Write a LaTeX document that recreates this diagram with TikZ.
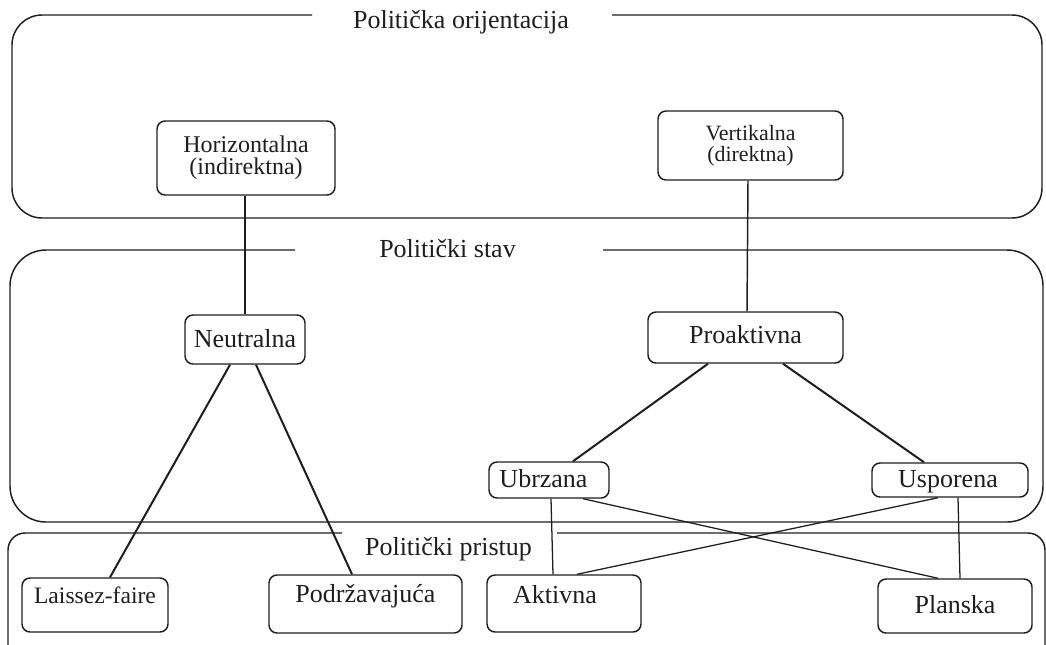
\documentclass[tikz,border=0pt]{standalone}
\usepackage{fontspec}
\setmainfont{Liberation Serif}
\usetikzlibrary{calc}
\definecolor{ln}{HTML}{1E1E1E}
\begin{document}
\begin{tikzpicture}[x=0.75pt,y=-0.75pt,line join=round,
  frame/.style={draw=ln,line width=1.1pt},
  box/.style={draw=ln,line width=1.1pt,rounded corners=6pt,fill=white,inner sep=0pt,
    font=\fontsize{19.5}{22}\selectfont,text=ln},
  lbl/.style={font=\fontsize{19.5}{22}\selectfont,text=ln,inner sep=0pt},
  mid/.style={draw=ln,line width=1.1pt},
  thk/.style={draw=ln,line width=1.5pt},
  thn/.style={draw=ln,line width=0.95pt}]
\useasboundingbox (0,0) rectangle (1046,644);
\clip (0,0) rectangle (1046,644);

% group frames
\draw[frame,rounded corners=22.5pt] (312,15) -- (12,15) -- (12,218) -- (1042,218) -- (1042,15) -- (612,15);
\draw[frame,rounded corners=27pt] (295,250) -- (10,250) -- (10,522) -- (1043,522) -- (1043,250) -- (603,250);
\draw[frame,rounded corners=12.75pt] (342,533) -- (8,533) -- (8,700) -- (1045,700) -- (1045,533) -- (557,533);

% group labels
\node[lbl,anchor=base] (t1) at (461,28) {Politička orijentacija};
\node[lbl,anchor=base] (t2) at (447.5,257) {Politički stav};
\node[lbl,anchor=base] (t3) at (448.5,555) {Politički pristup};

% nodes
\node[box,minimum width=133.5pt,minimum height=55.5pt,align=center,
  font=\fontsize{18}{16.5}\selectfont] (hor) at (246,158) {Horizontalna\\(indirektna)};
\node[box,minimum width=138.75pt,minimum height=51.75pt,align=center,
  font=\fontsize{16.4}{15.75}\selectfont] (ver) at (750.5,145.5) {Vertikalna\\(direktna)};
\node[box,minimum width=90pt,minimum height=36.75pt,text height=11.25pt,text depth=0pt] (neu) at (245,339.5) {Neutralna};
\node[box,minimum width=146.25pt,minimum height=38.25pt,text height=9pt,text depth=0pt] (pro) at (745.5,337.5) {Proaktivna};
\node[box,minimum width=90pt,minimum height=27pt,text height=10.5pt,text depth=0pt] (ubr) at (549,480) {Ubrzana\hspace*{8.25pt}};
\node[box,minimum width=117pt,minimum height=25.5pt,text height=10.5pt,text depth=0pt] (usp) at (950,480) {Usporena\hspace*{3pt}};
\node[box,minimum width=109.5pt,minimum height=40.5pt,text height=0pt,text depth=3pt,
  font=\fontsize{17.7}{20}\selectfont] (lai) at (95,605) {Laissez-faire};
\node[box,minimum width=144.75pt,minimum height=43.5pt,text height=0pt,text depth=3pt] (pod) at (365.5,604) {Podržavajuća};
\node[box,minimum width=115.5pt,minimum height=42.75pt,text height=0pt,text depth=0.75pt] (akt) at (564,603.5) {Aktivna\hspace*{13.5pt}};
\node[box,minimum width=115.5pt,minimum height=40.5pt,text height=10.5pt,text depth=0pt] (pla) at (955,606) {Planska};

% connectors
\draw[mid] ($(hor.south)+(-1,0)$) -- (neu.north);
\draw[mid] ($(ver.south)+(-2.5,0)$) -- ($(pro.north)+(1.5,0)$);
\draw[thk] ($(neu.south)+(-15,0)$) -- ($(lai.north)+(15,0)$);
\draw[thk] ($(neu.south)+(11,0)$) -- ($(pod.north)+(-13.5,0)$);
\draw[thk] ($(pro.south)+(-37.5,0)$) -- ($(ubr.north)+(24,0)$);
\draw[thk] ($(pro.south)+(37.5,0)$) -- ($(usp.north)+(-26,0)$);
\draw[thn] ($(ubr.south)+(2,0)$) -- ($(akt.north)+(-11,0)$);
\draw[thn] ($(ubr.south)+(34,0)$) -- ($(pla.north)+(-17,0)$);
\draw[thn] ($(usp.south)+(-12,0)$) -- ($(akt.north)+(13,0)$);
\draw[thn] ($(usp.south)+(8,0)$) -- ($(pla.north)+(5,0)$);
\end{tikzpicture}
\end{document}
